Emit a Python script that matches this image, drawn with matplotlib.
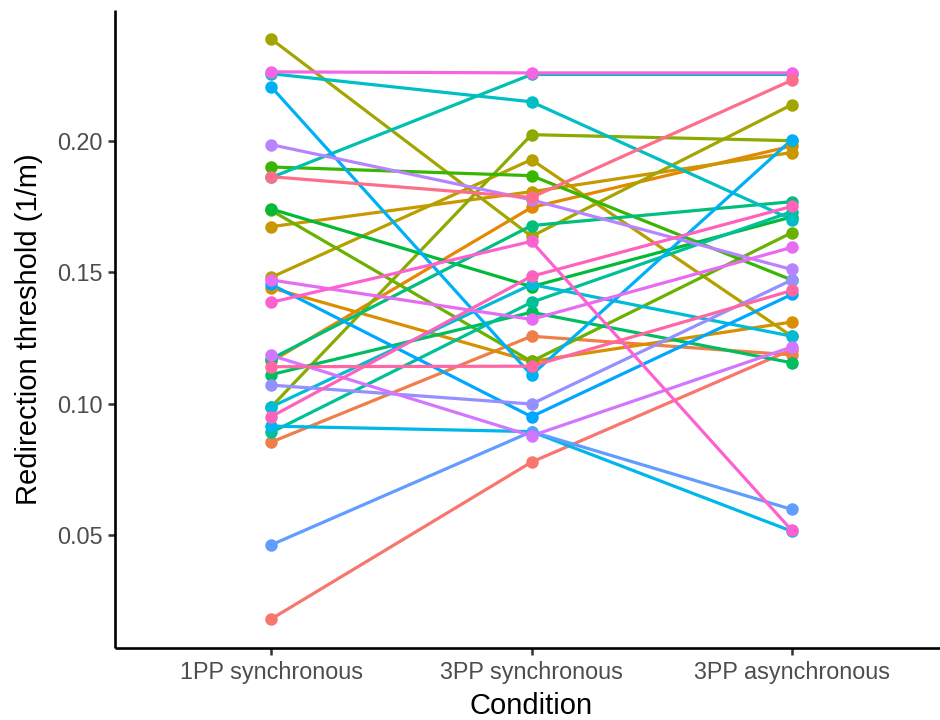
import numpy as np
import matplotlib
matplotlib.use("Agg")
import matplotlib.pyplot as plt

plt.rcParams['font.family'] = ['Liberation Sans', 'DejaVu Sans']

conditions = ['1PP synchronous', '3PP synchronous', '3PP asynchronous']

# one value per participant, participants ordered by factor level (hue order)
pp_sync_1 = [0.018, 0.0853, 0.116, 0.144, 0.1673, 0.148, 0.2387, 0.0987, 0.1735, 0.190,
             0.174, 0.111, 0.117, 0.089, 0.186, 0.2255, 0.0987, 0.0914, 0.2205, 0.1453,
             0.0462, 0.107, 0.1985, 0.1183, 0.147, 0.2262, 0.1385, 0.095, 0.114, 0.1863]
pp_sync_3 = [0.0777, 0.1256, 0.1746, 0.116, 0.1806, 0.1928, 0.1636, 0.2023, 0.116, 0.1867,
             0.1445, 0.1347, 0.1677, 0.1385, 0.2252, 0.2148, 0.1453, 0.0893, 0.1108, 0.095,
             0.0893, 0.0998, 0.1775, 0.0877, 0.132, 0.2258, 0.1617, 0.1484, 0.1142, 0.1784]
pp_async_3 = [0.1205, 0.1185, 0.198, 0.131, 0.1955, 0.1256, 0.2137, 0.200, 0.165, 0.147,
              0.171, 0.1155, 0.1768, 0.173, 0.2252, 0.170, 0.1256, 0.0514, 0.2004, 0.1415,
              0.0597, 0.147, 0.151, 0.1215, 0.1594, 0.2258, 0.0517, 0.175, 0.143, 0.223]


def hcl(h, c=100.0, l=65.0):
    # polar LUV -> sRGB, like grDevices::hcl
    hr = np.deg2rad(h)
    u, v = c * np.cos(hr), c * np.sin(hr)
    Xn, Yn, Zn = 95.047, 100.0, 108.883
    un = 4 * Xn / (Xn + 15 * Yn + 3 * Zn)
    vn = 9 * Yn / (Xn + 15 * Yn + 3 * Zn)
    Y = Yn * ((l + 16) / 116) ** 3
    up = u / (13 * l) + un
    vp = v / (13 * l) + vn
    X = Y * 9 * up / (4 * vp)
    Z = Y * (12 - 3 * up - 20 * vp) / (4 * vp)
    M = np.array([[3.2404542, -1.5371385, -0.4985314],
                  [-0.9692660, 1.8760108, 0.0415560],
                  [0.0556434, -0.2040259, 1.0572252]])
    rgb = M @ (np.array([X, Y, Z]) / 100.0)
    rgb = np.where(rgb > 0.0031308, 1.055 * np.clip(rgb, 0, None) ** (1 / 2.4) - 0.055, 12.92 * rgb)
    return tuple(np.clip(rgb, 0, 1))


n = len(pp_sync_1)
colors = [hcl(15 + 360 * i / n) for i in range(n)]

x = np.arange(1, len(conditions) + 1)
values = np.column_stack([pp_sync_1, pp_sync_3, pp_async_3])

fig = plt.figure(figsize=(9.4, 7.2), dpi=100)
ax = fig.add_axes([115 / 940, 72 / 720, 833 / 940, 638 / 720])

for i in range(n):
    ax.plot(x, values[i], color=colors[i], lw=2.3, zorder=2, solid_capstyle='butt')
for i in range(n):
    ax.plot(x, values[i], 'o', color=colors[i], ms=9, mew=0, zorder=3)

ax.set_xlim(0.4, 3.6)
lo, hi = values.min(), values.max()
pad = (hi - lo) * 0.05
ax.set_ylim(lo - pad, hi + pad)
ax.set_xticks(x)
ax.set_xticklabels(conditions)
ax.set_yticks([0.05, 0.10, 0.15, 0.20])
ax.set_yticklabels(['0.05', '0.10', '0.15', '0.20'])

for s in ['top', 'right']:
    ax.spines[s].set_visible(False)
for s in ['left', 'bottom']:
    ax.spines[s].set_linewidth(1.9)
    ax.spines[s].set_capstyle('butt')
ax.tick_params(axis='both', length=5, width=1.8, color='#333333',
               labelsize=16.8, labelcolor='#4D4D4D', pad=4)

ax.set_xlabel('Condition', fontsize=21, labelpad=6)
ax.set_ylabel('Redirection threshold (1/m)', fontsize=21, labelpad=10)

fig.savefig('out.png', dpi=100)
